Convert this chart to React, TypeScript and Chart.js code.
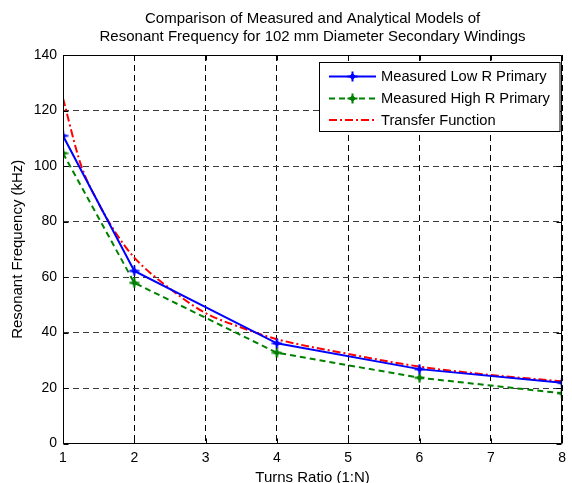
import React, { useEffect, useRef } from "react";
import { Chart, registerables } from "chart.js";

Chart.register(...registerables);

const titleLines = [
  "Comparison of Measured and Analytical Models of",
  "Resonant Frequency for 102 mm Diameter Secondary Windings",
];
const xAxisTitle = "Turns Ratio (1:N)";
const yAxisTitle = "Resonant Frequency (kHz)";

const turnsRatio = [1, 2, 4, 6, 8];
const measuredLowR = [110.9, 62.2, 36.1, 26.8, 21.9];
const measuredHighR = [104.6, 57.9, 32.7, 23.7, 18.1];
const transferN = [1, 1.25, 1.5, 1.75, 2, 2.5, 3, 3.5, 4, 5, 6, 7, 8];
const transferF = [124.4, 100.5, 86.5, 75.5, 67, 55.8, 47, 41.8, 37.6, 32.3, 27.7, 24.7, 22.4];

const seriesLabels = ["Measured Low R Primary", "Measured High R Primary", "Transfer Function"];

const FONT = "'Liberation Sans', Arial, Helvetica, sans-serif";

function makeMarker(color: string): HTMLCanvasElement {
  const c = document.createElement("canvas");
  c.width = 11;
  c.height = 11;
  const ctx = c.getContext("2d")!;
  ctx.strokeStyle = color;
  ctx.fillStyle = color;
  ctx.lineWidth = 2;
  ctx.beginPath();
  ctx.moveTo(5.5, 0.5);
  ctx.lineTo(5.5, 10.5);
  ctx.moveTo(0.5, 5.5);
  ctx.lineTo(10.5, 5.5);
  ctx.stroke();
  ctx.beginPath();
  ctx.moveTo(5.5, 2);
  ctx.lineTo(9, 5.5);
  ctx.lineTo(5.5, 9);
  ctx.lineTo(2, 5.5);
  ctx.closePath();
  ctx.fill();
  return c;
}

const titlePlugin = {
  id: "centeredTitle",
  afterDraw(chart: any) {
    const { ctx, chartArea: a } = chart;
    ctx.save();
    ctx.fillStyle = "#000";
    ctx.font = `15px ${FONT}`;
    ctx.textAlign = "center";
    ctx.textBaseline = "middle";
    const cx = (a.left + a.right) / 2;
    ctx.fillText(titleLines[0], cx, 19);
    ctx.fillText(titleLines[1], cx, 37);
    ctx.restore();
  },
};

const framePlugin = {
  id: "frame",
  afterDatasetsDraw(chart: any) {
    const { ctx, chartArea: a, scales } = chart;
    ctx.save();
    ctx.strokeStyle = "#000";
    ctx.lineWidth = 1;
    ctx.setLineDash([]);
    const L = Math.round(a.left) + 0.5;
    const R = Math.round(a.right) - 0.5;
    const T = Math.round(a.top) + 0.5;
    const B = Math.round(a.bottom) - 0.5;
    ctx.beginPath();
    ctx.rect(L, T, R - L, B - T);
    const tl = 5;
    scales.x.ticks.forEach((t: any) => {
      const px = Math.round(scales.x.getPixelForValue(t.value)) + 0.5;
      ctx.moveTo(px, B);
      ctx.lineTo(px, B - tl);
      ctx.moveTo(px, T);
      ctx.lineTo(px, T + tl);
    });
    scales.y.ticks.forEach((t: any) => {
      const py = Math.round(scales.y.getPixelForValue(t.value)) + 0.5;
      ctx.moveTo(L, py);
      ctx.lineTo(L + tl, py);
      ctx.moveTo(R, py);
      ctx.lineTo(R - tl, py);
    });
    ctx.stroke();
    ctx.restore();
  },
};

const legendPlugin = {
  id: "matlabLegend",
  afterDraw(chart: any) {
    const { ctx } = chart;
    const bx = 319.5, by = 62.5, bw = 240.5, bh = 69;
    ctx.save();
    ctx.fillStyle = "#fff";
    ctx.fillRect(bx, by, bw, bh);
    ctx.strokeStyle = "#000";
    ctx.lineWidth = 1;
    ctx.setLineDash([]);
    ctx.strokeRect(bx, by, bw, bh);
    const rows = [76.5, 98.5, 120];
    chart.data.datasets.forEach((ds: any, i: number) => {
      const y = rows[i];
      ctx.save();
      ctx.strokeStyle = ds.borderColor;
      ctx.lineWidth = ds.borderWidth;
      ctx.setLineDash(ds.borderDash || []);
      ctx.beginPath();
      ctx.moveTo(329, y);
      ctx.lineTo(376, y);
      ctx.stroke();
      ctx.restore();
      if (ds.pointStyle && typeof ds.pointStyle !== "string") {
        const img = ds.pointStyle as HTMLCanvasElement;
        ctx.drawImage(img, 352.5 - img.width / 2, y - img.height / 2);
      }
      ctx.fillStyle = "#000";
      ctx.font = `14.7px ${FONT}`;
      ctx.textAlign = "left";
      ctx.textBaseline = "middle";
      ctx.fillText(ds.label, 381, y + 0.5);
    });
    ctx.restore();
  },
};

export default function App() {
  const ref = useRef<HTMLCanvasElement | null>(null);

  useEffect(() => {
    document.body.style.margin = "0";
    const blueMarker = makeMarker("#0000ff");
    const greenMarker = makeMarker("#008000");
    const chart = new Chart(ref.current!, {
      type: "line",
      data: {
        datasets: [
          {
            label: seriesLabels[0],
            data: turnsRatio.map((x, i) => ({ x, y: measuredLowR[i] })),
            borderColor: "#0000ff",
            backgroundColor: "#0000ff",
            borderWidth: 2,
            pointStyle: blueMarker as any,
            pointRadius: 5,
            tension: 0,
          },
          {
            label: seriesLabels[1],
            data: turnsRatio.map((x, i) => ({ x, y: measuredHighR[i] })),
            borderColor: "#008000",
            backgroundColor: "#008000",
            borderWidth: 2,
            borderDash: [6, 4],
            pointStyle: greenMarker as any,
            pointRadius: 5,
            tension: 0,
          },
          {
            label: seriesLabels[2],
            data: transferN.map((x, i) => ({ x, y: transferF[i] })),
            borderColor: "#ff0000",
            backgroundColor: "#ff0000",
            borderWidth: 2,
            borderDash: [8, 3, 2, 3],
            pointRadius: 0,
            cubicInterpolationMode: "monotone",
          },
        ] as any,
      },
      options: {
        animation: false,
        responsive: false,
        maintainAspectRatio: false,
        layout: { padding: { left: 0, right: 5, top: 55, bottom: 0 } },
        plugins: {
          legend: { display: false },
          tooltip: { enabled: false },
          title: { display: false },
        },
        scales: {
          x: {
            type: "linear",
            min: 1,
            max: 8,
            afterFit: (s: any) => {
              s.height = 39.5;
            },
            ticks: {
              stepSize: 1,
              color: "#000",
              padding: 6,
              font: { family: FONT, size: 14 },
            },
            grid: {
              color: "#000",
              lineWidth: 1,
              drawTicks: false,
            },
            border: { display: false, dash: [6, 4] },
            title: {
              display: true,
              text: xAxisTitle,
              color: "#000",
              font: { family: FONT, size: 15, lineHeight: 0.75 },
              padding: { top: 0, bottom: 0 },
            },
          },
          y: {
            type: "linear",
            min: 0,
            max: 140,
            afterFit: (s: any) => {
              s.width = 63;
            },
            ticks: {
              stepSize: 20,
              color: "#000",
              padding: 6,
              font: { family: FONT, size: 14 },
            },
            grid: {
              color: "#3a3a3a",
              lineWidth: 1,
              drawTicks: false,
            },
            border: { display: false, dash: [6, 4] },
            title: {
              display: true,
              text: yAxisTitle,
              color: "#000",
              font: { family: FONT, size: 15, lineHeight: 1 },
              padding: { top: 10, bottom: 0 },
            },
          },
        },
      },
      plugins: [framePlugin, legendPlugin, titlePlugin],
    });
    return () => chart.destroy();
  }, []);

  return (
    <div style={{ width: 572, height: 483, background: "#fff" }}>
      <canvas ref={ref} width={572} height={483} style={{ display: "block", width: 572, height: 483 }} />
    </div>
  );
}
